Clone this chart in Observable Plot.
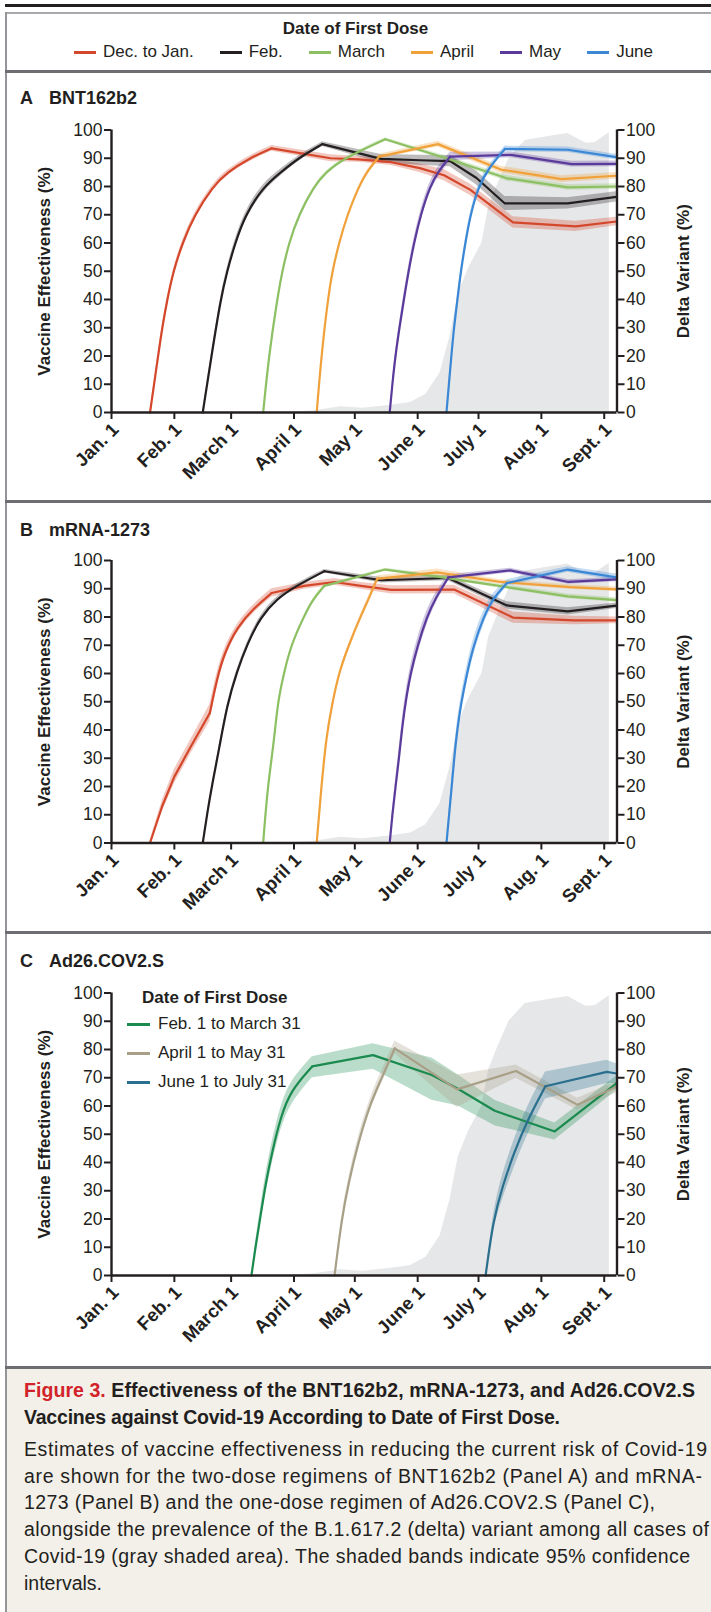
<!DOCTYPE html>
<html><head><meta charset="utf-8">
<script src="https://cdn.jsdelivr.net/npm/d3@7"></script>
<script src="https://cdn.jsdelivr.net/npm/@observablehq/plot@0.6"></script>
<style>
body{margin:0;width:711px;height:1612px;position:relative;overflow:hidden;background:#fff;font-family:"Liberation Sans",Arial,sans-serif;color:#231f20}
.abs{position:absolute}
.rule{position:absolute;left:5px;right:0}
.ptitle{position:absolute;left:20px;font-weight:bold;font-size:18px;line-height:20px;white-space:nowrap}
.ptitle span{margin-left:16px}
#legend{position:absolute;left:8px;width:711px;top:42px;display:flex;justify-content:center;gap:26px;font-size:17px;line-height:20px}
#legend .it{display:flex;align-items:center;white-space:nowrap}
#legend .sw{width:22px;height:3px;margin-right:7px}
#legC{position:absolute;left:127px;top:986px;font-size:17px}
#legC .row{position:absolute;white-space:nowrap;display:flex;align-items:center;height:24px}
#legC .sw{width:23px;height:3px;margin-right:8px}
#caption{position:absolute;left:7px;right:0;top:1368px;bottom:0;background:#f3f0ea}
.cl{position:absolute;left:24px;white-space:nowrap;font-size:19.5px;line-height:24px}
.cl.b{font-weight:bold}
.panel{position:absolute;left:0;top:0}
</style></head><body>
<div class="abs" style="left:5px;top:4px;width:706px;height:3px;background:#231f20"></div>
<div class="abs" style="left:5px;top:12px;width:706px;height:2px;background:#a7a9ac"></div>
<div class="abs" style="left:5px;top:12px;width:2px;height:1600px;background:#939598"></div>
<div class="rule" style="top:70px;height:3px;background:#6d6e71"></div>
<div class="rule" style="top:500px;height:3px;background:#6d6e71"></div>
<div class="rule" style="top:931px;height:3px;background:#6d6e71"></div>
<div id="caption"></div>
<div class="rule" style="top:1366px;height:3px;background:#6d6e71"></div>

<div class="abs" style="left:0;width:711px;top:18px;text-align:center;font-weight:bold;font-size:17px;line-height:22px">Date of First Dose</div>
<div id="legend"></div>

<div class="ptitle" style="top:88px">A<span>BNT162b2</span></div>
<div class="ptitle" style="top:520px">B<span>mRNA-1273</span></div>
<div class="ptitle" style="top:951px">C<span>Ad26.COV2.S</span></div>

<div id="pA" class="panel"></div>
<div id="pB" class="panel"></div>
<div id="pC" class="panel"></div>
<div id="legC"></div>

<div id="captext"></div>

<script>
// ---------- DATA ----------
// day = days after Jan. 1, 2021; ve = vaccine effectiveness (%); e = half-width of 95% CI
const monthDays = [0, 31, 59, 90, 120, 151, 181, 212, 243];
const monthLabels = ["Jan. 1", "Feb. 1", "March 1", "April 1", "May 1", "June 1", "July 1", "Aug. 1", "Sept. 1"];
const yTicks = [0, 10, 20, 30, 40, 50, 60, 70, 80, 90, 100];
const xEndDay = 249.3;

const cohortNames = ["Dec. to Jan.", "Feb.", "March", "April", "May", "June"];
const cohortColors = ["#d4472b", "#231f20", "#8cc063", "#f0a13a", "#5a3a9b", "#3a87d6"];

// delta variant prevalence (%): [day, pct]
const deltaVariant = [[88,0],[100,0.6],[113,2],[124,1.5],[138,2.6],[147.5,3.5],[155,6.5],[162,14],[167,27],[171,42],[176,51],[182.7,60],[186,72.8],[190,80],[196,90],[204,96.3],[214,97.5],[225,98.8],[234,95.3],[238.5,95.6],[245.5,99]];

// Panel A – BNT162b2: [day, ve, e]
const bntDecJan = [[19,0,0.5],[23,20,1],[25,30,1],[27.5,40,1.2],[30.5,50,1.2],[35,60,1.2],[41,70,1.2],[50,80,1],[57,85,1],[68,90,1],[79,93.5,1],[108,90,1.2],[122,89.6,1],[138,88.6,1.2],[152,86.5,1.5],[164,84,2],[177,78.8,2],[198,67.3,2],[229,65.9,1.8],[249,67.6,1.5]];
const bntFeb = [[45,0,0.5],[49.3,20,1],[53.8,40,1.2],[57,50,1.5],[61,60,1.5],[66,70,1.5],[75,80,1.5],[83.5,85,1.2],[92,90,1],[104,95,0.8],[133,89.8,1.5],[152,89.3,1.8],[167,89,2],[180,83,2.5],[194,74,2.5],[225,74,2],[249,76.3,1.8]];
const bntMarch = [[74.8,0,0.3],[77.6,20,0.5],[81.7,40,0.5],[84.2,50,0.5],[87.5,60,0.5],[92.4,70,0.5],[99.8,80,0.5],[105.6,85,0.5],[114.6,90,0.5],[135,96.7,0.6],[165,90,0.8],[195,82.9,1],[225,79.7,1],[249,80,1]];
const bntApril = [[101.2,0,0.3],[103.5,20,0.5],[106.7,40,0.5],[108.9,50,0.5],[112.2,60,0.5],[116.3,70,0.5],[122,80,0.6],[125.7,85,0.6],[132,90.6,0.8],[161,95,1],[192,86,1.2],[222,82.6,1.2],[249,83.8,1.2]];
const bntMay = [[137.2,0,0.5],[138.5,10,1],[140,20,1.5],[142,30,1.8],[144.2,40,2],[146.5,50,2],[149.2,60,2],[152.5,70,2],[157,80,2],[161.3,85.5,2],[167,90.6,1.5],[197,91.2,1],[227,87.9,1],[249,88,1]];
const bntJune = [[165.2,0,0.5],[166.4,10,0.8],[167.6,20,1],[168.9,30,1.2],[170.6,40,1.5],[172.3,50,1.5],[174.5,60,1.5],[177,70,1.5],[181,80,1.5],[186,86.5,1.2],[194,93.3,1],[225,93,1],[249,90.4,1]];
const bntRiseStart = [0, 0, 0, 0, 0, 0]; // index where the smooth rise starts
const bntRiseEnd = [10, 9, 9, 8, 10, 10]; // index where the smooth rise ends (kink)

// Panel B – mRNA-1273: [day, ve, e]
const mrnaDecJan = [[19,0,1],[25,13,2],[31,23.5,2.5],[39,34,2.5],[48.5,46,3],[52,58,2.5],[55.5,67,2],[62,76.5,1.5],[70,83,1.5],[79,88.5,1.5],[95,91,1.2],[110,92.4,1.2],[123,91,1.2],[138,89.6,1.5],[169,89.7,1.5],[198,79.8,2],[228,78.8,1.5],[249,78.8,1.2]];
const mrnaFeb = [[45,0,0.3],[47.2,10.5,0.5],[49.7,21,0.5],[53,33,0.8],[57,49,1],[62,61,1],[67,70.5,1],[73.5,80,1.2],[81.7,86.5,1],[90,90.6,0.8],[105,96.2,0.6],[133,93,1],[166,93.8,1],[195,84.1,1.3],[225,82,1.3],[249,84,1]];
const mrnaMarch = [[74.8,0,0.3],[77,20,0.4],[80,35,0.4],[82,50,0.4],[85,60,0.4],[88.5,70,0.4],[94.8,80,0.5],[99,86,0.5],[105,91,0.5],[135,96.8,0.5],[159,94.5,0.6],[192,90.9,0.7],[225,87.3,0.8],[249,86,0.8]];
const mrnaApril = [[101.2,0,0.3],[103.5,20,0.5],[106,38,0.5],[108.8,49,0.6],[112,60,0.6],[117,70,0.6],[122.7,80,0.8],[127.6,87.6,1],[131,93.5,1],[160.5,95.8,1.2],[192,92.4,0.8],[226,90.6,0.8],[249,89.8,0.8]];
const mrnaMay = [[137.2,0,1],[138.5,10,2],[140.1,20,2.5],[141.8,30,3],[143.5,42,3],[145.5,52,3],[147.5,60,3],[151,70,3],[155.5,80,2.5],[159.6,86.5,2],[166.2,94,1],[196.6,96.5,0.8],[225.4,92.4,0.8],[249,93.3,0.8]];
const mrnaJune = [[165.2,0,1],[166.5,10,2],[167.8,20,2.5],[169,30,3],[170.5,40,3],[172.3,49,3],[175.3,60,3],[178.6,70,3],[183.5,80,2.5],[188,86.5,2],[195,92,1.2],[225,96.8,1],[249,94,1.2]];
const mrnaRiseStart = [4, 0, 0, 0, 0, 0];
const mrnaRiseEnd = [9, 10, 8, 8, 10, 10];

// Panel C – Ad26.COV2.S: [day, ve, lo, hi]
const adNamesC = ["Feb. 1 to March 31", "April 1 to May 31", "June 1 to July 31"];
const adColorsC = ["#1b8a4e", "#a89f87", "#2a6f8e"];
const adFebMar = [[69,0,0,0],[71,10,8,12],[73.5,21,18,24],[76,32.5,29,36],[79.3,44,40,48],[83.4,56,52,60],[88.3,65.4,61,69],[99,74,70,77.4],[129,78,73,82],[158,71,62,77],[171,66,60,71],[189,58.3,53,62],[218.6,51,48,54],[249,68,65.5,70.5]];
const adAprMay = [[110,0,0,0],[113.5,20,18.5,22],[117,33,31,35],[121.5,46.6,44.5,49],[127.5,60.7,58.5,63],[132.7,69,67,71.5],[139.7,80.4,78.5,83],[170.4,65.9,59.5,71],[199.5,72.4,69.8,74.5],[229.8,60.4,58.6,62.7],[249,66.8,64.5,68.6]];
const adJunJul = [[184.5,0,0,0],[188.3,19.8,17,23],[192.8,31.5,27,36],[198.4,43.3,38,48],[205.1,55,50,60],[214,67,62.5,72],[244.3,72.1,68,76.2],[249,71.5,68,75]];
const adRiseStart = [0, 0, 0];
const adRiseEnd = [7, 6, 5];

// caption text
const capTitle = ["Effectiveness of the BNT162b2, mRNA-1273, and Ad26.COV2.S", "Vaccines against Covid-19 According to Date of First Dose."];
const capBody = [
  "Estimates of vaccine effectiveness in reducing the current risk of Covid-19",
  "are shown for the two-dose regimens of BNT162b2 (Panel A) and mRNA-",
  "1273 (Panel B) and the one-dose regimen of Ad26.COV2.S (Panel C),",
  "alongside the prevalence of the B.1.617.2 (delta) variant among all cases of",
  "Covid-19 (gray shaded area). The shaded bands indicate 95% confidence",
  "intervals."
];

// ---------- HELPERS ----------
const t0 = Date.UTC(2021, 0, 1);
const toDate = d => new Date(t0 + d * 864e5);
const xDomain = [toDate(0), toDate(xEndDay)];
const monthTickDates = monthDays.map(toDate);
const labelByTime = new Map(monthTickDates.map((d, i) => [d.getTime(), monthLabels[i]]));
const ink = "#231f20";
const font = '"Liberation Sans",Arial,sans-serif';

function panel(series, mt, twoCol) {
  const H = 387;
  const X = d => toDate(d[0]);
  const Y1 = d => twoCol ? Math.max(0, d[1] - d[2]) : d[2];
  const Y2 = d => twoCol ? Math.min(100, d[1] + d[2]) : d[3];
  const marks = [
    Plot.areaY(deltaVariant, {x: X, y: d => d[1], fill: "#e6e7e8"})
  ];
  const parts = s => [
    {d: s.data.slice(0, s.k0 + 1), curve: "linear"},
    {d: s.data.slice(s.k0, s.k + 1), curve: "basis"},
    {d: s.data.slice(s.k), curve: "linear"}
  ].filter(p => p.d.length > 1);
  for (const s of series) {
    for (const p of parts(s)) marks.push(Plot.areaY(p.d, {x: X, y1: Y1, y2: Y2, fill: s.color, fillOpacity: 0.3, curve: p.curve}));
  }
  for (const s of series) {
    for (const p of parts(s)) marks.push(Plot.lineY(p.d, {x: X, y: d => d[1], stroke: s.color, strokeWidth: 2.2, curve: p.curve}));
  }
  marks.push(
    Plot.ruleY([0], {stroke: ink, strokeWidth: 2.4}),
    Plot.ruleX([xDomain[0]], {y1: 0, y2: 100, stroke: ink, strokeWidth: 2.4}),
    Plot.ruleX([xDomain[1]], {y1: 0, y2: 100, stroke: ink, strokeWidth: 2.4}),
    Plot.axisY(yTicks, {anchor: "left", tickSize: 7, tickPadding: 2, label: null, strokeWidth: 2, stroke: ink, fill: ink, fontSize: 17.5}),
    Plot.axisY(yTicks, {anchor: "right", tickSize: 7, tickPadding: 2, label: null, strokeWidth: 2, stroke: ink, fill: ink, fontSize: 17.5}),
    // month ticks
    Plot.axisX(monthTickDates, {tickFormat: () => "", tickSize: 7, label: null, strokeWidth: 2, stroke: ink}),
    // month labels, shifted slightly right of their ticks as in the original
    Plot.axisX(monthTickDates, {tickFormat: d => labelByTime.get(d.getTime()), tickRotate: -45, tickSize: 0, tickPadding: 14, dx: 4, label: null, fill: ink, fontSize: 18.5, fontWeight: 600}),
    Plot.text(["Vaccine Effectiveness (%)"], {text: d => d, frameAnchor: "left", rotate: -90, dx: -67, textAnchor: "middle", fontWeight: "bold", fontSize: 17, fill: ink}),
    Plot.text(["Delta Variant (%)"], {text: d => d, frameAnchor: "right", rotate: -90, dx: 67, textAnchor: "middle", fontWeight: "bold", fontSize: 17, fill: ink})
  );
  return Plot.plot({
    width: 711, height: H,
    marginLeft: 111, marginRight: 94.5, marginTop: mt, marginBottom: H - mt - 282.5,
    x: {type: "utc", domain: xDomain},
    y: {domain: [0, 100]},
    style: {fontFamily: font, fontSize: "17px", color: ink, background: "transparent", overflow: "visible"},
    marks
  });
}

const seriesA = [bntDecJan, bntFeb, bntMarch, bntApril, bntMay, bntJune].map((data, i) => ({data, color: cohortColors[i], k0: bntRiseStart[i], k: bntRiseEnd[i]}));
const seriesB = [mrnaDecJan, mrnaFeb, mrnaMarch, mrnaApril, mrnaMay, mrnaJune].map((data, i) => ({data, color: cohortColors[i], k0: mrnaRiseStart[i], k: mrnaRiseEnd[i]}));
const seriesC = [adFebMar, adAprMay, adJunJul].map((data, i) => ({data, color: adColorsC[i], k0: adRiseStart[i], k: adRiseEnd[i]}));

function place(id, chart, top) {
  const el = document.getElementById(id);
  el.style.top = top + "px";
  el.appendChild(chart);
}
place("pA", panel(seriesA, 24.5, true), 105);
place("pB", panel(seriesB, 25, true), 535);
place("pC", panel(seriesC, 25.5, false), 967);

// top legend
const leg = document.getElementById("legend");
cohortNames.forEach((n, i) => {
  const it = document.createElement("div"); it.className = "it";
  it.innerHTML = `<div class="sw" style="background:${cohortColors[i]}"></div><span>${n}</span>`;
  leg.appendChild(it);
});

// panel C legend
const lc = document.getElementById("legC");
const head = document.createElement("div");
head.className = "row"; head.style.left = "15px"; head.style.top = "0px";
head.style.fontWeight = "bold";
head.textContent = "Date of First Dose";
lc.appendChild(head);
adNamesC.forEach((n, i) => {
  const r = document.createElement("div"); r.className = "row";
  r.style.left = "0px"; r.style.top = (26 + i * 29) + "px";
  r.innerHTML = `<div class="sw" style="background:${adColorsC[i]}"></div><span>${n}</span>`;
  lc.appendChild(r);
});

// caption (each line fitted to the reference line width via letter-spacing)
const ct = document.getElementById("captext");
const capLines = [
  {html: `<span style="color:#d2232a">Figure 3.</span> ${capTitle[0]}`, bold: true, top: 1390, w: 671},
  {html: capTitle[1], bold: true, top: 1417, w: 536},
  ...capBody.map((t, i) => ({html: t, bold: false, top: 1449 + i * 26.7, w: [683, 678, 631, 685, 666, 0][i]}))
];
capLines.forEach(c => {
  const d = document.createElement("div");
  d.className = "cl" + (c.bold ? " b" : "");
  d.style.top = (c.top - 12) + "px";
  d.innerHTML = c.html;
  ct.appendChild(d);
  if (c.w) {
    const w = d.getBoundingClientRect().width;
    const n = d.textContent.length - 1;
    d.style.letterSpacing = ((c.w - w) / n) + "px";
  }
});
</script>
</body></html>
